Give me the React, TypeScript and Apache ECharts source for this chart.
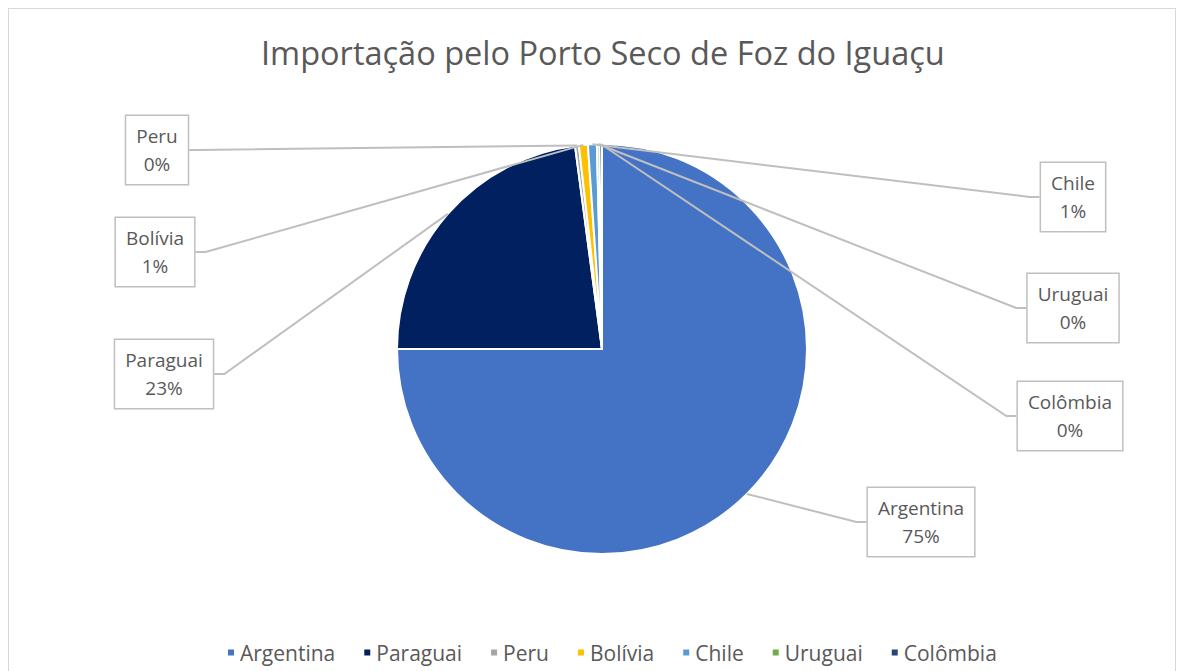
import React, { useEffect, useRef } from "react";
import * as echarts from "echarts";

const titleText = "Importação pelo Porto Seco de Foz do Iguaçu";
const categories = ["Argentina", "Paraguai", "Peru", "Bolívia", "Chile", "Uruguai", "Colômbia"];
const values = [75.0, 22.9, 0.3, 0.7, 0.7, 0.2, 0.2];
const colors = ["#4472C4", "#002060", "#A5A5A5", "#FFC000", "#5B9BD5", "#70AD47", "#264478"];
// label box centres (chart pixel coordinates)
const labelPos: [number, number][] = [
  [912, 513],
  [155, 365],
  [148, 141],
  [146, 243],
  [1064, 188],
  [1064, 299],
  [1061, 407],
];

export default function App() {
  const ref = useRef<HTMLDivElement>(null);
  useEffect(() => {
    if (!ref.current) return;
    const chart = echarts.init(ref.current, undefined, { renderer: "svg" });
    const font = "'Open Sans', 'Noto Sans', sans-serif";
    chart.setOption({
      animation: false,
      color: colors,
      title: {
        text: titleText,
        left: 247,
        top: 22,
        textStyle: { fontFamily: font, fontSize: 32.5, fontWeight: "normal", color: "#595959" },
      },
      legend: {
        data: categories,
        top: 628,
        left: 212,
        icon: "rect",
        itemWidth: 8,
        itemHeight: 8,
        itemGap: 27,
        textStyle: { fontFamily: font, fontSize: 21, color: "#595959" },
      },
      series: [
        {
          type: "pie",
          center: [593, 340],
          radius: [0, 205],
          startAngle: 90,
          clockwise: true,
          data: categories.map((c, i) => ({ name: c, value: values[i] })),
          itemStyle: { borderColor: "#ffffff", borderWidth: 2 },
          label: {
            show: true,
            formatter: (p: any) => `${p.name}\n${Math.round(p.percent)}%`,
            fontFamily: font,
            fontSize: 19,
            lineHeight: 28,
            color: "#595959",
            align: "center",
            backgroundColor: "#ffffff",
            borderColor: "#BFBFBF",
            borderWidth: 1.5,
            padding: [6, 10],
          },
          labelLine: {
            show: true,
            showAbove: true,
            length: 10,
            length2: 10,
            lineStyle: { color: "#BFBFBF", width: 2 },
          },
          labelLayout: (params: any) => {
            const p = labelPos[params.dataIndex];
            return {
              x: p[0],
              y: p[1],
              align: "center",
              verticalAlign: "middle",
            };
          },
        },
      ],
    });
    return () => chart.dispose();
  }, []);
  return (
    <div
      ref={ref}
      style={{ width: 1166, height: 680, border: "1px solid #D9D9D9", background: "#fff" }}
    />
  );
}
